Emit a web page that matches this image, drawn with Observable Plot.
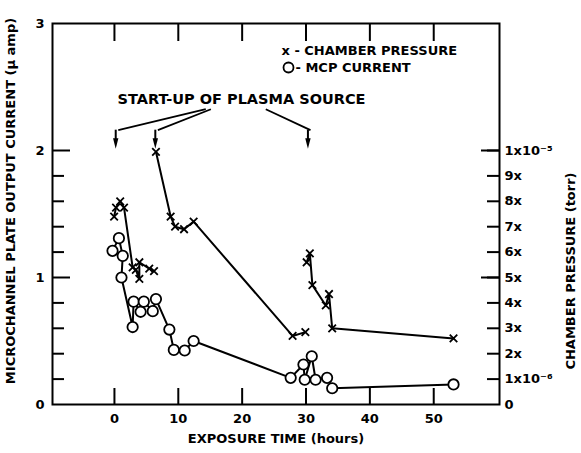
<!DOCTYPE html>
<html><head><meta charset="utf-8">
<script src="https://cdn.jsdelivr.net/npm/d3@7"></script>
<script src="https://cdn.jsdelivr.net/npm/@observablehq/plot@0.6"></script>
<style>
body{margin:0;background:#fff;}
#chart svg{display:block;}
</style></head><body><div id="chart"></div>
<script>
// ---- data ----
// MCP output current (µA) vs exposure time (hours), one connected series
const mcpTime    = [-0.3, 0.7, 1.3, 1.1, 2.85, 3.0, 4.1, 4.6, 6.0, 6.5, 8.6, 9.3, 11.0, 12.4, 27.6, 29.6, 29.8, 30.9, 31.5, 33.3, 34.1, 53.1];
const mcpCurrent = [1.21, 1.31, 1.17, 1.00, 0.61, 0.81, 0.73, 0.81, 0.735, 0.83, 0.59, 0.43, 0.425, 0.50, 0.21, 0.315, 0.195, 0.38, 0.195, 0.21, 0.128, 0.158];

// Chamber pressure (torr), three runs after each start-up
const p1Time = [-0.05, 0.25, 0.9, 1.5, 2.85, 3.35, 3.9, 3.9, 5.45, 6.2];
const p1Torr = [7.4e-6, 7.75e-6, 8.0e-6, 7.75e-6, 5.4e-6, 5.3e-6, 4.95e-6, 5.6e-6, 5.35e-6, 5.25e-6];
const p2Time = [6.5, 8.8, 9.5, 10.9, 12.4, 27.9, 29.9];
const p2Torr = [9.95e-6, 7.4e-6, 7.0e-6, 6.9e-6, 7.2e-6, 2.7e-6, 2.85e-6];
const p3Time = [30.1, 30.6, 31.0, 33.1, 33.6, 34.1, 53.1];
const p3Torr = [5.6e-6, 5.95e-6, 4.7e-6, 3.9e-6, 4.35e-6, 3.0e-6, 2.6e-6];

// start-up of plasma source (hours)
const startupTimes = [0.2, 6.4, 30.3];
const leaderEnds   = [14.3, 15.1, 23.7];

// ticks and labels
const xTicks = [0, 10, 20, 30, 40, 50];
const leftLabels = [0, 1, 2, 3];
const leftMinorTicks = [0.2, 0.4, 0.6, 0.8, 1.2, 1.4, 1.6, 1.8];
const leftMajorTicks = [1, 2];
const rightTickTorr = [0, 1e-6, 2e-6, 3e-6, 4e-6, 5e-6, 6e-6, 7e-6, 8e-6, 9e-6, 1e-5];
const rightLabels = ["0", "1x10\u207B\u2076", "2x", "3x", "4x", "5x", "6x", "7x", "8x", "9x", "1x10\u207B\u2075"];

// pressure axis: 1e-5 torr sits at 2 µA on the left axis
const TORR_PER_UNIT = 5e-6;

// ---- tables ----
const mcp = mcpTime.map((t, i) => ({t, v: mcpCurrent[i]}));
const press = [
  ...p1Time.map((t, i) => ({t, p: p1Torr[i], run: 1})),
  ...p2Time.map((t, i) => ({t, p: p2Torr[i], run: 2})),
  ...p3Time.map((t, i) => ({t, p: p3Torr[i], run: 3}))
];
const startup = startupTimes.map((t, i) => ({t, end: leaderEnds[i]}));

const W = 581, H = 453, mL = 52, mR = 82, mT = 23, mB = 49;
const plotW = W - mL - mR, plotH = H - mT - mB;
const font = "DejaVu Sans";

const arrowHead = {
  draw(ctx, size) {
    const s = Math.sqrt(size);
    ctx.moveTo(-s * 0.33, -s * 0.65);
    ctx.lineTo(s * 0.33, -s * 0.65);
    ctx.lineTo(0, s * 0.65);
    ctx.closePath();
  }
};

const chart = Plot.plot({
  width: W, height: H,
  marginLeft: mL, marginRight: mR, marginTop: mT, marginBottom: mB,
  x: {domain: [-9.7, 60.3], axis: null},
  y: {domain: [0, 3], axis: null},
  style: {fontFamily: font, fontSize: "13px", color: "black", background: "white"},
  marks: [
    Plot.frame({stroke: "black", strokeWidth: 2}),
    // x ticks (bottom, pointing up; top, pointing down)
    Plot.tickX(xTicks, {x: d => d, insetTop: plotH - 16, strokeWidth: 2}),
    Plot.tickX(xTicks, {x: d => d, insetBottom: plotH - 18, strokeWidth: 2}),
    // left ticks
    Plot.tickY(leftMinorTicks, {y: d => d, insetRight: plotW - 12, strokeWidth: 2}),
    Plot.tickY(leftMajorTicks, {y: d => d, insetRight: plotW - 18, strokeWidth: 2}),
    // right ticks
    Plot.tickY(rightTickTorr.slice(1), {y: d => d / TORR_PER_UNIT, insetLeft: plotW - 12, strokeWidth: 2}),
    Plot.tickY([5e-6, 1e-5], {y: d => d / TORR_PER_UNIT, insetLeft: plotW - 18, strokeWidth: 2}),
    // tick labels
    Plot.text(xTicks, {x: d => d, text: d => String(d), frameAnchor: "bottom", lineAnchor: "middle", dy: 14, fontWeight: "bold"}),
    Plot.text(leftLabels, {y: d => d, text: d => String(d), frameAnchor: "left", textAnchor: "end", lineAnchor: "middle", dx: -8, fontWeight: "bold"}),
    Plot.text(rightTickTorr, {y: d => d / TORR_PER_UNIT, text: (d, i) => rightLabels[i], frameAnchor: "right", textAnchor: "start", lineAnchor: "middle", dx: 5, fontWeight: "bold"}),
    // axis titles
    Plot.text(["MICROCHANNEL PLATE OUTPUT CURRENT (\u03BC amp)"], {text: d => d, frameAnchor: "left", textAnchor: "middle", rotate: -90, lineAnchor: "middle", dx: -42, dy: -13, fontWeight: "bold"}),
    Plot.text(["CHAMBER PRESSURE (torr)"], {text: d => d, frameAnchor: "right", textAnchor: "middle", rotate: -90, lineAnchor: "middle", dx: 71, dy: 57, fontWeight: "bold"}),
    Plot.text(["EXPOSURE TIME (hours)"], {text: d => d, frameAnchor: "bottom", textAnchor: "middle", lineAnchor: "middle", dy: 34, fontWeight: "bold"}),
    // legend
    Plot.text(["x - CHAMBER PRESSURE"], {text: d => d, frameAnchor: "top-left", textAnchor: "start", lineAnchor: "middle", dx: 229, dy: 27, fontWeight: "bold"}),
    Plot.dot([0], {frameAnchor: "top-left", dx: 236, dy: 44, r: 5, stroke: "black", strokeWidth: 1.8, fill: "white"}),
    Plot.text(["- MCP CURRENT"], {text: d => d, frameAnchor: "top-left", textAnchor: "start", lineAnchor: "middle", dx: 243, dy: 44, fontWeight: "bold"}),
    // start-up annotation
    Plot.text(["START-UP OF PLASMA SOURCE"], {text: d => d, x: () => 19.9, y: () => 2.40, lineAnchor: "middle", fontSize: 14.5, fontWeight: "bold"}),
    Plot.link(startup, {x1: d => d.t + 0.4, y1: () => 2.16, x2: d => d.end, y2: () => 2.325, strokeWidth: 1.8}),
    Plot.ruleX(startup, {x: "t", y1: 2.07, y2: 2.16, strokeWidth: 2}),
    Plot.dot(startup, {x: "t", y: () => 2.055, symbol: arrowHead, r: 4.6, fill: "black", stroke: "none"}),
    // pressure lines and markers
    Plot.line(press, {x: "t", y: d => d.p / TORR_PER_UNIT, z: "run", stroke: "black", strokeWidth: 2}),
    Plot.dot(press, {x: "t", y: d => d.p / TORR_PER_UNIT, symbol: "times", r: 3.5, stroke: "black", strokeWidth: 1.8}),
    // MCP current line and circles
    Plot.line(mcp, {x: "t", y: "v", stroke: "black", strokeWidth: 2}),
    Plot.dot(mcp, {x: "t", y: "v", r: 5.2, stroke: "black", strokeWidth: 1.8, fill: "white"})
  ]
});
document.getElementById("chart").appendChild(chart);
</script>
</body></html>
